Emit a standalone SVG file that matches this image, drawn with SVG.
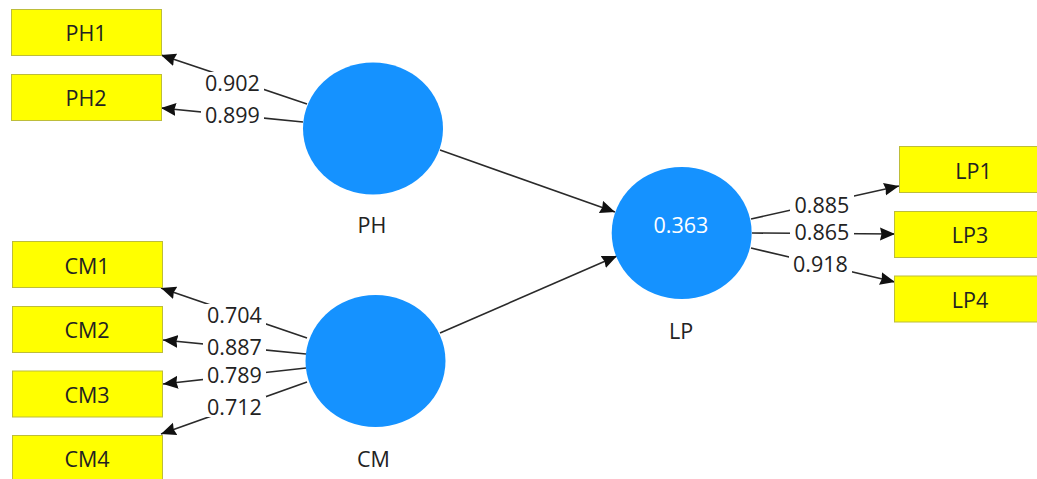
<svg xmlns="http://www.w3.org/2000/svg" width="1037" height="479" viewBox="0 0 1037 479">
<style>
.box{fill:#FFFF00;stroke:#BDBD3A;stroke-width:1}
.lv{fill:#1592FF}
.t{font-family:"Open Sans","Noto Sans","Liberation Sans",sans-serif;font-size:21.5px;fill:#222;text-anchor:middle}
.w{fill:#FFFFFF}
.ln{stroke:#2a2a2a;stroke-width:1.6;fill:none;marker-end:url(#ah)}
.bg{fill:#FFFFFF}
</style>
<defs>
<marker id="ah" markerUnits="userSpaceOnUse" markerWidth="16" markerHeight="14" viewBox="0 0 16 14" refX="15" refY="7" orient="auto">
<path d="M0,0.5 L15,7 L0,13.5 L1.5,7 z" fill="#111"/>
</marker>
</defs>
<rect width="1037" height="479" fill="#FFFFFF"/>
<g id="connectors">
<line class="ln" x1="307" y1="104" x2="161" y2="55"/>
<line class="ln" x1="303" y1="122" x2="161" y2="108"/>
<line class="ln" x1="307" y1="338" x2="161" y2="288"/>
<line class="ln" x1="306" y1="354" x2="163" y2="340"/>
<line class="ln" x1="306" y1="368" x2="163" y2="384"/>
<line class="ln" x1="307" y1="382" x2="161" y2="434"/>
<line class="ln" x1="751" y1="219" x2="899" y2="186"/>
<line class="ln" x1="752" y1="233" x2="895" y2="234"/>
<line class="ln" x1="751" y1="248" x2="895" y2="282"/>
<line class="ln" x1="440" y1="150" x2="615" y2="212"/>
<line class="ln" x1="440" y1="333" x2="617" y2="256"/>
<rect class="bg" x="201" y="72" width="63" height="21"/>
<text class="t" x="232.5" y="90.5">0.902</text>
<rect class="bg" x="201" y="104" width="63" height="21"/>
<text class="t" x="232.5" y="122.5">0.899</text>
<rect class="bg" x="203" y="304" width="63" height="21"/>
<text class="t" x="234.5" y="323">0.704</text>
<rect class="bg" x="203" y="336" width="63" height="21"/>
<text class="t" x="234.5" y="355">0.887</text>
<rect class="bg" x="203" y="364" width="63" height="21"/>
<text class="t" x="234.5" y="383">0.789</text>
<rect class="bg" x="203" y="396" width="63" height="21"/>
<text class="t" x="234.5" y="415">0.712</text>
<rect class="bg" x="790" y="194" width="64" height="21"/>
<text class="t" x="822" y="212.5">0.885</text>
<rect class="bg" x="790" y="221" width="64" height="21"/>
<text class="t" x="822" y="240">0.865</text>
<rect class="bg" x="789" y="253" width="63" height="21"/>
<text class="t" x="820.5" y="272">0.918</text>
</g>
<g id="PH1"><rect class="box" x="11.5" y="9.5" width="150" height="46"/><text class="t" x="86" y="40.5">PH1</text></g>
<g id="PH2"><rect class="box" x="11.5" y="74.5" width="150" height="46"/><text class="t" x="86" y="106">PH2</text></g>
<g id="CM1"><rect class="box" x="12.5" y="241.5" width="150" height="46"/><text class="t" x="87" y="273.5">CM1</text></g>
<g id="CM2"><rect class="box" x="12.5" y="306.5" width="150" height="46"/><text class="t" x="87" y="338">CM2</text></g>
<g id="CM3"><rect class="box" x="12.5" y="371" width="150" height="46"/><text class="t" x="87" y="402.5">CM3</text></g>
<g id="CM4"><rect class="box" x="12.5" y="435.5" width="150" height="46"/><text class="t" x="87" y="467">CM4</text></g>
<g id="LP1"><rect class="box" x="899.5" y="146.5" width="150" height="46"/><text class="t" x="973.5" y="178.5">LP1</text></g>
<g id="LP3"><rect class="box" x="894.5" y="211.5" width="150" height="46"/><text class="t" x="970" y="243">LP3</text></g>
<g id="LP4"><rect class="box" x="894.5" y="276" width="150" height="46"/><text class="t" x="970" y="307.5">LP4</text></g>
<g id="PH"><ellipse class="lv" cx="373" cy="128.5" rx="70" ry="66"/><text class="t" x="372" y="233">PH</text></g>
<g id="CM"><ellipse class="lv" cx="375.5" cy="361" rx="70" ry="66"/><text class="t" x="373.5" y="466.5">CM</text></g>
<g id="LP"><ellipse class="lv" cx="681.7" cy="233" rx="70" ry="66"/><text class="t w" x="681" y="233">0.363</text><text class="t" x="681" y="339">LP</text></g>
</svg>
